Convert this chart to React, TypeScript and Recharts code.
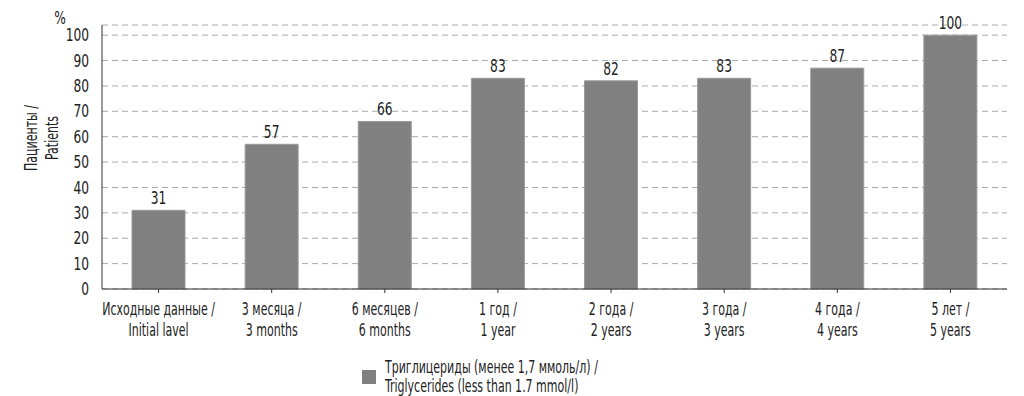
import { BarChart, Bar, XAxis, YAxis, CartesianGrid, Legend, LabelList, Customized } from 'recharts';

// Share of patients with triglycerides < 1.7 mmol/l over follow-up
const periodsRu = ['Исходные данные /', '3 месяца /', '6 месяцев /', '1 год /', '2 года /', '3 года /', '4 года /', '5 лет /'];
const periodsEn = ['Initial lavel', '3 months', '6 months', '1 year', '2 years', '3 years', '4 years', '5 years'];
const triglycerides = [31, 57, 66, 83, 82, 83, 87, 100];
const yTicks = [0, 10, 20, 30, 40, 50, 60, 70, 80, 90, 100];

const FONT = '"DejaVu Sans Condensed", "DejaVu Sans", sans-serif';
const SIZE = 17;
const NARROW = 0.72; // squeeze words to mimic the narrow font of the original
const NARROW_NUM = 0.8;

const data = periodsRu.map((ru, i) => ({
  ru,
  en: periodsEn[i],
  value: triglycerides[i],
}));

function PeriodTick({ x, y, payload }: any) {
  const idx = payload.index;
  return (
    <g fontSize={SIZE} fill="#222" fontFamily={FONT}>
      <text transform={`translate(${x},${y + 20}) scale(${NARROW},1)`} textAnchor="middle">
        {periodsRu[idx]}
      </text>
      <text transform={`translate(${x},${y + 41}) scale(${NARROW},1)`} textAnchor="middle">
        {periodsEn[idx]}
      </text>
    </g>
  );
}

function ValueTick({ x, y, payload }: any) {
  return (
    <text
      transform={`translate(${x},${y}) scale(${NARROW_NUM},1)`}
      dy="0.36em"
      textAnchor="end"
      fontSize={SIZE}
      fill="#222"
      fontFamily={FONT}
    >
      {payload.value}
    </text>
  );
}

function BarValue({ x, y, width, value }: any) {
  return (
    <text
      transform={`translate(${x + width / 2},${y - 6}) scale(${NARROW_NUM},1)`}
      textAnchor="middle"
      fontSize={SIZE}
      fill="#222"
      fontFamily={FONT}
    >
      {value}
    </text>
  );
}

function AxisTitles() {
  return (
    <g fontFamily={FONT} fontSize={SIZE} fill="#222">
      <text transform={`translate(60,24) scale(${NARROW_NUM},1)`} textAnchor="middle">%</text>
      <text transform={`translate(37,138) rotate(-90) scale(${NARROW},1)`} textAnchor="middle">Пациенты /</text>
      <text transform={`translate(58,138) rotate(-90) scale(${NARROW},1)`} textAnchor="middle">Patients</text>
    </g>
  );
}

function LegendBox() {
  return (
    <div style={{ display: 'flex', alignItems: 'center', fontFamily: FONT, fontSize: SIZE, color: '#222', lineHeight: '19px' }}>
      <div style={{ width: 14, height: 14, background: '#808080', marginRight: 9, flex: 'none' }} />
      <div style={{ transform: `scaleX(${NARROW})`, transformOrigin: 'left center', whiteSpace: 'nowrap' }}>
        <div>Триглицериды (менее 1,7 ммоль/л) /</div>
        <div>Triglycerides (less than 1.7 mmol/l)</div>
      </div>
    </div>
  );
}

export default function App() {
  return (
    <div style={{ position: 'absolute', left: 0, top: 0, width: 1024, height: 396, background: '#fff' }}>
      <BarChart width={1024} height={396} data={data} margin={{ top: 25, right: 17, left: 0, bottom: 0 }}>
        <CartesianGrid vertical={false} stroke="#aaa" strokeDasharray="6 4" />
        <XAxis
          dataKey="ru"
          height={107}
          stroke="#333"
          tickLine={{ stroke: '#333' }}
          tickSize={4}
          interval={0}
          tick={<PeriodTick />}
        />
        <YAxis
          width={102}
          domain={[0, 104]}
          ticks={yTicks}
          stroke="#333"
          tickLine={false}
          tickMargin={7}
          tick={<ValueTick />}
        />
        <Legend
          layout="horizontal"
          verticalAlign="middle"
          align="center"
          content={<LegendBox />}
          wrapperStyle={{ top: 358, left: 362, width: 'auto', height: 'auto' }}
        />
        <Bar dataKey="value" fill="#808080" stroke="#999" strokeWidth={1} barSize={53} isAnimationActive={false}>
          <LabelList dataKey="value" content={<BarValue />} />
        </Bar>
        <Customized component={AxisTitles} />
      </BarChart>
    </div>
  );
}
